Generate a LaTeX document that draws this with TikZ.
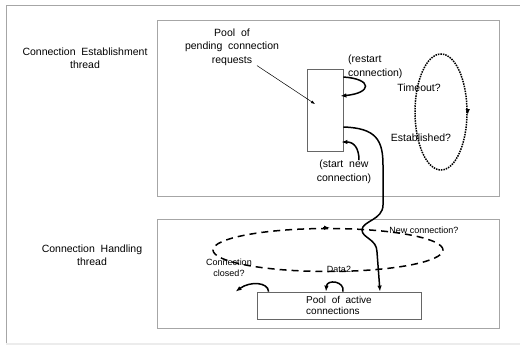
\documentclass[tikz,border=0pt]{standalone}
\usepackage{fontspec}
\setmainfont{Liberation Sans}
\usetikzlibrary{arrows.meta,positioning,shapes.geometric}

\begin{document}
\begin{tikzpicture}[x=1pt,y=-1pt,
  every node/.style={font=\fontsize{10.5}{13.5}\selectfont, inner sep=0pt},
  frame/.style ={draw=gray!70, line width=0.8pt},
  area/.style  ={draw=gray!70, line width=0.8pt, minimum width=342pt},
  pool/.style  ={draw=gray!80!black, line width=0.8pt},
  small/.style ={font=\fontsize{9}{11}\selectfont},
  arr/.style   ={-{Latex[length=6pt,width=4.5pt]}, line width=1.5pt},
  thinarr/.style={-{Latex[length=4pt,width=3pt]}, line width=0.5pt},
  >=Latex
]
\useasboundingbox (0,0) rectangle (520,346);

% outer frame
\draw[frame] (6,343) -- (6,5) -- (530,5);
\draw[gray!15, line width=1.5pt] (6,344) -- (520,344);

% thread areas
\node[area, minimum height=176pt] (estbox)  at (328,108)   {};
\node[area, minimum height=109pt] (handbox) at (328,273.5) {};

\node[align=center] (estlbl)  at (85,58)  {Connection\ \ Establishment\\thread};
\node[align=center] (handlbl) at (92,255) {Connection\ \ Handling\\thread};

% pools
\node[pool, minimum width=36pt, minimum height=82pt] (pend) at (325,110) {};
\node[align=center] (pendlbl) at (232,47) {Pool\ \ of\\pending\ \ connection\\requests};

\node[pool, minimum width=164pt, minimum height=27pt, align=left,
      font=\fontsize{10}{11.5}\selectfont] (active) at (339,305.5)
     {Pool\ \ of\ \ active\\connections};

% loops
\node[ellipse, draw, densely dotted, line width=1.5pt,
      minimum width=52pt, minimum height=116pt] (timeloop) at (441,112) {};
\node[ellipse, draw, dash pattern=on 7pt off 5pt, line width=1.5pt,
      minimum width=230pt, minimum height=43pt] (hloop) at (328,250) {};

\draw[arr] ([yshift=3pt]timeloop.east) -- ([yshift=-3pt]timeloop.east);
\draw[arr] ([xshift=-5pt]hloop.north)  -- ([xshift=2pt]hloop.north);

% labels
\node (tout) at (419,88)  {Timeout?};
\node (estq) at (421,138) {Established?};
\node[align=left, anchor=west] (restartlbl) at (348,67) {(restart\\connection)};
\node[align=center] (startlbl) at (344,172) {(start\ \ new\\connection)};
\node[small] (newq) at (424,230) {New connection?};
\node[small, align=center] (closedq) at (229,268) {Connection\\closed?};
\node[small] (dataq) at (339,269) {Data2};

% connectors
\draw[thinarr] ([xshift=25pt]pendlbl.south) -- ([xshift=-10pt,yshift=6pt]pend.center);
\draw[arr] ([yshift=33pt]pend.east) .. controls (373,79) and (372,93)
           .. ([xshift=-3pt,yshift=14pt]pend.east);
\draw[arr] ([xshift=15pt]startlbl.north) .. controls (359,148) and (354,142)
           .. ([xshift=-2pt,yshift=-32pt]pend.east);
\draw[arr] ([yshift=-17pt]pend.east) .. controls (376,128) and (383,140) .. (383,165)
           -- (383,205) .. controls (383,220) and (362,221) .. (362,230)
           .. controls (362,238) and (377,239) .. (377,252)
           -- ([xshift=41pt]active.north);
\draw[arr] ([xshift=4pt]active.north) .. controls (345,281) and (327,279)
           .. ([xshift=-13pt]active.north);
\draw[arr] ([xshift=12pt]active.north west) .. controls (268,282) and (250,281)
           .. ([xshift=-21pt]active.north west);

\end{tikzpicture}
\end{document}
